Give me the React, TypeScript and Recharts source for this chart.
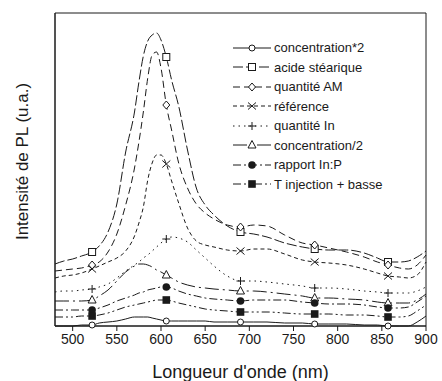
import { LineChart, Line, XAxis, YAxis, Legend, ReferenceArea } from "recharts"

const wavelengths = [480, 490, 500, 510, 522, 530, 540, 550, 560, 570, 575, 580, 585, 590, 595, 600, 606, 612, 620, 630, 640, 650, 660, 675, 690, 705, 720, 740, 760, 774, 790, 810, 830, 845, 857, 870, 880, 890, 900]

const concentrationX2 = [0, 0, 0, 1, 1, 3, 4, 5, 7, 9, 9, 9, 9, 8, 7, 6, 5, 5, 5, 5, 5, 5, 4, 4, 4, 4, 4, 3, 3, 2, 2, 2, 1, 1, 0, 0, 0, 4, 10]
const acideStearique = [62, 65, 67, 70, 74, 80, 94, 122, 174, 214, 244, 270, 285, 291, 293, 286, 269, 246, 220, 176, 138, 121, 111, 100, 94, 92, 89, 83, 79, 77, 76, 76, 73, 68, 64, 64, 65, 69, 75]
const quantiteAM = [55, 56, 57, 58, 61, 64, 74, 92, 121, 158, 184, 214, 248, 271, 274, 258, 221, 196, 163, 138, 122, 113, 107, 101, 99, 101, 100, 91, 83, 81, 78, 74, 69, 64, 61, 58, 57, 61, 71]
const referenceSample = [48, 50, 51, 53, 57, 60, 64, 68, 75, 90, 103, 119, 146, 163, 171, 171, 162, 145, 123, 98, 85, 81, 79, 76, 75, 77, 77, 72, 66, 64, 63, 61, 57, 53, 50, 49, 48, 51, 64]
const quantiteIn = [34, 35, 35, 36, 37, 39, 42, 48, 55, 61, 64, 68, 71, 75, 79, 83, 87, 89, 88, 84, 76, 68, 60, 50, 45, 45, 44, 42, 40, 38, 38, 37, 35, 34, 33, 33, 33, 35, 39]
const concentrationHalf = [25, 25, 25, 25, 26, 30, 36, 45, 54, 60, 62, 62, 61, 59, 56, 54, 51, 48, 44, 41, 39, 38, 37, 36, 35, 35, 34, 32, 30, 28, 28, 27, 26, 24, 23, 23, 23, 26, 32]
const rapportInP = [16, 16, 16, 16, 16, 18, 21, 25, 28, 31, 33, 34, 36, 37, 38, 39, 39, 38, 35, 32, 30, 28, 27, 26, 25, 26, 26, 26, 24, 23, 22, 22, 21, 19, 18, 18, 19, 24, 30]
const tInjection = [9, 9, 9, 10, 10, 11, 13, 16, 19, 21, 22, 23, 24, 25, 26, 26, 26, 25, 23, 21, 19, 17, 16, 15, 14, 14, 14, 13, 12, 12, 12, 11, 11, 10, 9, 9, 10, 15, 21]

const markerWavelengths = [522, 606, 690, 774, 857]
const xTicks = [500, 550, 600, 650, 700, 750, 800, 850, 900]

const ink = "#1a1a1a"
const font = "'Liberation Sans', Arial, sans-serif"

const data = wavelengths.map((wl, i) => ({
  wl,
  c2: concentrationX2[i],
  acide: acideStearique[i],
  am: quantiteAM[i],
  ref: referenceSample[i],
  inq: quantiteIn[i],
  half: concentrationHalf[i],
  ratio: rapportInP[i],
  tinj: tInjection[i],
}))

const series = [
  { key: "c2", name: "concentration*2", dash: undefined, marker: "circle" },
  { key: "acide", name: "acide stéarique", dash: "10 3", marker: "square" },
  { key: "am", name: "quantité AM", dash: "7 4", marker: "diamond" },
  { key: "ref", name: "référence", dash: "4 3", marker: "cross" },
  { key: "inq", name: "quantité In", dash: "1.5 4", marker: "plus" },
  { key: "half", name: "concentration/2", dash: "14 4 2 4", marker: "triangle" },
  { key: "ratio", name: "rapport In:P", dash: "8 3 2 3", marker: "dot" },
  { key: "tinj", name: "T injection + basse", dash: "8 3 2 3 2 3", marker: "block" },
]

function Marker({ type, cx, cy }: { type: string; cx: number; cy: number }) {
  switch (type) {
    case "circle":
      return <circle cx={cx} cy={cy} r={3} fill="#fff" stroke={ink} />
    case "square":
      return <rect x={cx - 3.5} y={cy - 3.5} width={7} height={7} fill="#fff" stroke={ink} />
    case "diamond":
      return <path d={`M${cx},${cy - 4}L${cx + 3.5},${cy}L${cx},${cy + 4}L${cx - 3.5},${cy}Z`} fill="#fff" stroke={ink} />
    case "cross":
      return <path d={`M${cx - 4},${cy - 3.5}L${cx + 4},${cy + 3.5}M${cx + 4},${cy - 3.5}L${cx - 4},${cy + 3.5}`} stroke={ink} fill="none" />
    case "plus":
      return <path d={`M${cx - 4},${cy}L${cx + 4},${cy}M${cx},${cy - 4}L${cx},${cy + 4}`} stroke={ink} fill="none" />
    case "triangle":
      return <path d={`M${cx},${cy - 4.5}L${cx + 4},${cy + 3}L${cx - 4},${cy + 3}Z`} fill="#fff" stroke={ink} />
    case "dot":
      return <circle cx={cx} cy={cy} r={3.8} fill={ink} />
    case "block":
      return <rect x={cx - 3.8} y={cy - 3.8} width={7.6} height={7.6} fill={ink} />
  }
  return null
}

function renderLegend() {
  return (
    <div style={{ fontFamily: font, fontSize: 13, color: ink }}>
      {series.map((s) => (
        <div key={s.key} style={{ display: "flex", alignItems: "center", height: 19.5 }}>
          <svg width={38} height={12}>
            <line x1={0} y1={6} x2={38} y2={6} stroke={ink} strokeDasharray={s.dash} />
            <Marker type={s.marker} cx={19} cy={6} />
          </svg>
          <span style={{ marginLeft: 3, whiteSpace: "nowrap" }}>{s.name}</span>
        </div>
      ))}
    </div>
  )
}

export default function App() {
  return (
    <div style={{ position: "absolute", left: 0, top: 0, background: "#fff", fontFamily: font }}>
      <LineChart width={442} height={381} data={data} margin={{ top: 13, right: 16, left: 0, bottom: 0 }}>
        <XAxis
          dataKey="wl"
          type="number"
          domain={[480, 900]}
          ticks={xTicks}
          height={55}
          tickSize={5}
          tickMargin={3}
          stroke={ink}
          tick={{ fontSize: 14, fill: ink, fontFamily: font }}
          label={{
            content: ({ viewBox }: any) => (
              <text x={viewBox.x + viewBox.width / 2} y={viewBox.y + 52} textAnchor="middle" fontSize={18} fill={ink} fontFamily={font}>
                Longueur d'onde (nm)
              </text>
            ),
          }}
        />
        <YAxis
          type="number"
          domain={[0, 313]}
          width={55}
          tick={false}
          tickLine={false}
          stroke={ink}
          label={{
            content: ({ viewBox }: any) => {
              const x = viewBox.x + 22
              const y = viewBox.y + viewBox.height / 2 - 8
              return (
                <text x={x} y={y} transform={`rotate(-90 ${x} ${y})`} textAnchor="middle" dominantBaseline="central" fontSize={17} fill={ink} fontFamily={font}>
                  Intensité de PL (u.a.)
                </text>
              )
            },
          }}
        />
        <ReferenceArea x1={480} x2={900} y1={0} y2={313} fill="none" stroke={ink} strokeOpacity={1} fillOpacity={0} />
        {series.map((s) => (
          <Line
            key={s.key}
            type="monotone"
            dataKey={s.key}
            name={s.name}
            stroke={ink}
            strokeWidth={1}
            strokeDasharray={s.dash}
            isAnimationActive={false}
            activeDot={false}
            dot={(p: any) => (
              <g key={`${s.key}-${p.index}`}>
                {markerWavelengths.includes(p.payload.wl) ? <Marker type={s.marker} cx={p.cx} cy={p.cy} /> : null}
              </g>
            )}
          />
        ))}
        <Legend
          layout="vertical"
          align="center"
          verticalAlign="middle"
          content={renderLegend}
          wrapperStyle={{ left: 233, top: 38, width: 200 }}
        />
      </LineChart>
    </div>
  )
}
